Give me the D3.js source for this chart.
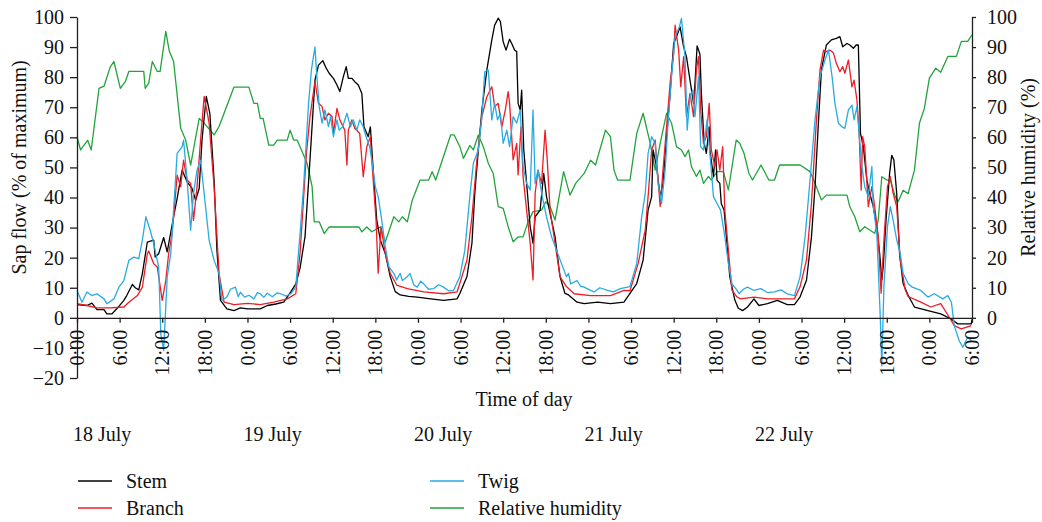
<!DOCTYPE html>
<html>
<head>
<meta charset="utf-8">
<script src="https://cdn.jsdelivr.net/npm/d3@7"></script>
<style>
  body { margin: 0; background: #fff; }
  text { font-family: "Liberation Serif", "DejaVu Serif", serif; fill: #111; }
  .axis path, .axis line { stroke: #231f20; stroke-width: 1.3; }
</style>
</head>
<body>
<div id="chart"></div>
<script>
// [hours since 18 July 0:00, value]
var stemFlow = [
  [0,4.4],[1.4,4.1],[2.1,4.9],[2.8,2.7],[3.8,2.7],[4.2,1.3],[4.9,1.3],[5.6,3],[6.6,5.8],[7,7.4],[7.8,11.1],[8.2,10],[8.7,9.3],[9.2,14.7],[9.9,25.2],[10.8,25.8],[11,20.2],[11.5,21.3],[12.2,26.7],[12.7,21.9],[13.6,33.6],[14.1,39.7],[14.8,49.1],[15.5,45.2],[16.2,43],[16.7,39.1],[17.2,43],[17.6,59.1],[18.2,73.6],[18.7,68],[19.3,45.8],[19.7,22.4],[20.2,5.8],[21.1,3],[22.1,2.4],[23,3.3],[24,3],[25.8,3],[26.8,4.1],[28,4.6],[29.1,5.2],[30.1,8.6],[30.8,11.3],
  [31.4,16.5],[32.1,27],[32.8,52.5],[33.5,79],[34,84],[34.6,85.5],[35.1,82.9],[35.5,81.3],[36.1,79.6],[36.6,77.4],[37,75.2],[37.5,80.2],[37.9,83.5],[38.2,79.6],[38.7,79.6],[39.1,78.5],[39.6,77.4],[40.1,74.6],[40.4,63.5],[41,60.2],[41.3,63.5],[41.7,49.1],[42.2,32.5],[42.7,25.9],[43.4,21.4],[44.1,13.7],[44.8,8.7],[45.5,7.6],
  [46.7,7.1],[47.9,6.9],[49.8,6.3],[51.6,5.8],[53.5,6.3],
  [53.9,8.1],[54.9,13.7],[55.6,24.8],[56,41.4],[56.5,55.8],[57,69.1],[57.7,82.4],[58.4,92.4],[58.8,97.3],[59.3,99.6],[59.6,98.5],[60,91.8],[60.4,89],[60.9,92.6],[61.2,91.2],[61.6,89],[61.9,88.5],[62.1,71.3],[62.4,69.1],[62.6,75.7],[62.9,55.8],[63.3,44.7],[63.8,30.3],[64.2,24.8],[64.5,33.6],[65.2,35.8],[65.7,48],[66.1,40.3],[66.6,34.7],[67.3,27],[68,13.7],[68.7,8.1],[69.2,7.6],
  [70.4,5.2],[71.4,4.7],[73.3,5.2],[75.1,4.7],[77,5.2],
  [77.85,8.1],[78.8,11.4],[79.7,19.2],[80.4,35.8],[80.9,40.3],[81.1,55.8],[81.6,50.3],[82.1,40.3],[82.5,44.7],[83,60.2],[83.5,74.6],[84,91.2],[84.4,93.4],[84.9,96.7],[85.4,90.1],[85.8,86.8],[86.3,79],[86.8,71.3],[87,78],[87.3,90.4],[87.7,87.6],[87.9,74.6],[88.3,58],[88.6,54.7],[89,63.5],[89.1,55.8],[89.6,47],[89.9,55.8],[90.1,45.8],[90.5,44.7],[90.7,38],[91.1,35.8],[91.5,24.8],[91.9,13.7],[92.6,6],[93.1,3.2],
  [93.7,2.4],[94.4,3.6],[95.3,6.3],[96,4.1],[97.2,4.7],[98.6,5.8],[100,4.4],[101,4.4],
  [101.8,7],[102.7,12.5],[103.4,26.9],[103.9,43.6],[104.4,65.8],[104.8,82.4],[105.5,90.7],[106.2,92.4],[106.9,92.9],[107.4,93.5],[107.8,90.1],[108.4,91.2],[108.8,90.7],[109.3,89.6],[109.7,90.7],[110,90.7],[110.3,61.3],[110.7,57],[111.2,45.8],[111.6,41.4],[112.1,37],[112.6,30.3],[113,21.4],[113.3,12.6],[113.5,17],[113.9,32.5],[114.4,48],[114.7,54],[115,52.5],[115.4,41.4],[115.8,21.4],[116.3,11.4],[117,7.5],
  [117.9,3.6],[119.8,2.4],[121.6,1.3],[123,-0.3],[124,-2],[125.9,-2],[126,-0.5]
];
var branchFlow = [
  [0,4.7],[1.4,4.1],[2.8,3.3],[4.7,3.3],[6.6,3.6],[7.3,5.2],[8.5,7.4],[9.2,10.2],[9.9,21.3],[10.1,22.2],[10.8,18],[11.3,16.9],[12,5.8],[12.5,12.4],[12.9,21.3],[13.4,28],[14.1,47.4],[14.6,43.6],[15,52.4],[15.5,45.8],[16,44.7],[16.4,32.4],[16.9,43.6],[17.4,59.1],[17.9,73.6],[18.6,64.7],[19.3,43.6],[20,14.7],[20.7,5.2],[22.1,4.4],[24,4.8],[25.8,4.4],[27.7,5.2],[29.6,6.3],[30.8,8],
  [31.4,21.4],[32.3,54.7],[32.8,66.9],[33.5,78.5],[34,71.3],[34.5,70.2],[34.9,65.8],[35.4,68],[35.9,66.9],[36.1,61.3],[36.6,69.6],[37,65.8],[37.7,62.4],[38,50.8],[38.2,62.4],[38.7,65.8],[39.1,63],[39.8,61.3],[40.3,46.9],[40.8,56.9],[41.3,60.2],[41.6,49.1],[42.1,32.5],[42.4,14.8],[42.8,30.3],[43.4,21.4],[44.1,14.8],[45,10.9],
  [46.5,9.7],[48.8,8.6],[51.6,8],[53.5,8.6],
  [53.9,11.5],[54.9,19.2],[55.6,33.6],[56.3,52.5],[57,66.9],[57.7,73.5],[58.4,76.8],[58.8,70.2],[59.3,71.3],[59.8,63.5],[60.3,69.1],[60.7,75.2],[60.9,71.3],[61.4,52.5],[61.9,58],[62.1,47.5],[62.5,63.5],[62.8,46.9],[63.3,35.8],[63.8,24.8],[64.2,12.6],[64.5,41.4],[64.9,49.1],[65.4,44.7],[65.9,62.4],[66.2,52.5],[66.6,35.8],[67.3,24.8],[68,13.7],[68.9,10.4],
  [70,8],[72.3,7.4],[75.1,7.4],[77,9.1],
  [77.85,9],[79,18.1],[80,29.2],[80.4,40.3],[80.9,55.8],[81.4,59.1],[81.7,49.1],[82.1,37],[82.5,49.1],[83,63.5],[83.5,78],[84,87.9],[84.2,97.3],[84.7,89],[85,76.8],[85.4,86.8],[85.8,66.9],[86.3,74.6],[86.8,66.9],[87.2,82.4],[87.5,86.8],[87.8,69.1],[88.2,58],[88.6,60.2],[89,71.3],[89.3,55.8],[89.8,50.3],[90.1,55.8],[90.5,49.1],[90.9,56.9],[91.2,35.8],[91.7,22.5],[92.2,9.2],[92.9,7],
  [93.4,6.3],[95.3,6.9],[97.2,6.3],[99.1,6.3],[101,6.3],
  [101.8,10.4],[102.7,19.2],[103.4,38],[104.1,65.8],[104.6,82.4],[105.1,89],[105.5,88.5],[106,89],[106.5,88],[106.9,84.6],[107.4,81.8],[107.8,83.5],[108.1,81.3],[108.6,85.7],[109.1,76.8],[109.4,79],[109.8,72.4],[110.1,62.4],[110.4,42.5],[110.6,60.2],[110.9,56.9],[111.4,37],[111.9,43.6],[112.3,37],[112.8,27],[113.2,8.2],[113.6,25.9],[114.1,43.6],[114.5,46.9],[114.9,41.4],[115.4,37],[115.9,19.2],[116.6,9.3],[117,7.1],
  [118.8,5.2],[120.2,3.6],[121.6,4.7],[122.8,0.2],[123.5,-2.6],[124.5,-3.7],[125.9,-2.6]
];
var twigFlow = [
  [0,9.1],[0.7,5.2],[1.4,8.6],[2.1,7.4],[2.8,8],[3.8,6.3],[4.2,4.7],[5.2,6.3],[5.9,10.2],[6.6,12.4],[7.3,19.1],[8,20.2],[8.7,19.7],[9.2,25.8],[9.7,33.6],[10.3,29.1],[10.8,24.7],[11.5,16.9],[11.8,-5.3],[12.2,-10.9],[12.7,13.6],[13.2,21.3],[13.6,35.8],[14.1,54.7],[14.8,56.9],[15,59.1],[15.5,45.8],[16,29.1],[16.4,41.3],[16.9,49.1],[17.4,52.4],[17.9,41.3],[18.6,25.8],[19.3,19.1],[20,14.7],[20.4,5.8],
  [21.1,6.9],[21.6,9.5],[22.3,10.2],[22.7,7],[23,8.5],[23.6,6.9],[24.2,7.5],[24.9,6.3],[25.4,8.4],[25.8,8],[26.3,6.8],[26.8,8.2],[27.5,7],[28.2,8.3],[28.7,8],[29.4,7.2],[30.1,8],[30.8,10.2],
  [31.4,28],[31.9,43.6],[32.6,71.3],[33,82.4],[33.5,90.1],[33.7,82.4],[34.1,70.2],[34.5,64.7],[34.9,69.1],[35.4,63.6],[35.7,66.9],[36.1,60.2],[36.6,65.8],[36.9,62.4],[37.4,63.5],[38,68],[38.5,63.5],[38.9,65.8],[39.4,62.4],[39.8,65.8],[40.3,63.5],[40.7,60.2],[41.2,56.9],[41.5,52.5],[42,43.6],[42.4,40.3],[42.9,32.5],[43.4,23.7],[43.9,17],[44.6,14.8],[45,12.6],[45.5,14.8],
  [45.8,12.4],[46.4,13.5],[46.9,14.7],[47.4,11],[47.9,10.2],[48.4,12.2],[48.8,11.3],[49.5,9.5],[50.2,9.7],[50.9,11],[51.6,10.2],[52.3,9],[53,9.1],
  [53.9,13.7],[54.6,22.5],[55.3,40.3],[55.8,51.4],[56.5,55.8],[57,66.9],[57.4,81.8],[57.9,82.4],[58.4,65.8],[58.8,71.3],[59.2,65.8],[59.6,68],[60,58],[60.5,62.4],[60.9,56.9],[61.4,66.9],[61.9,64.7],[62.4,69.1],[62.8,50.3],[63.3,44.7],[63.8,42.5],[64.2,69.1],[64.5,44.7],[64.9,49.1],[65.5,40.3],[66.1,33.6],[66.8,27],[67.5,22.5],[68.2,18.1],[68.9,13.7],[69.2,14.8],
  [69.5,11.3],[70.4,12.4],[70.9,10.5],[71.4,10.2],[72.1,9.4],[72.8,8.6],[73.6,10],[74.7,9.1],[75.5,8.6],[76.5,9.7],
  [77.85,10.4],[78.8,18.1],[79.5,33.6],[80,41.4],[80.4,54.7],[80.9,60.2],[81.4,58],[81.8,44.7],[82.3,38],[82.8,49.1],[83.2,64.6],[83.7,80.2],[84.2,93.4],[84.8,96.7],[85.1,99.5],[85.6,86.8],[85.9,62.4],[86.3,73.5],[86.7,75.7],[87,66.9],[87.5,80.2],[87.8,56.9],[88.2,55.8],[88.7,65.8],[89.1,54.7],[89.6,40.3],[90.1,38],[90.6,35.8],[91.2,27],[91.7,18.1],[92.2,11.4],[92.9,9.2],
  [93.2,8],[93.8,9.5],[94.4,10.2],[95.3,9.1],[96.3,9.7],[97.2,8.4],[98.2,8.6],[99.1,9.3],[100,8],[101,7.4],
  [101.8,13.7],[102.5,26.9],[103.2,45.8],[103.9,65.8],[104.6,80.2],[105.3,85.7],[105.8,89],[106.3,80.2],[106.7,71.3],[107.2,64.7],[107.7,63.5],[108.1,63],[108.6,69.1],[109.1,70.7],[109.4,65.8],[109.8,70.2],[110.1,61.3],[110.5,50.3],[110.9,43.6],[111.4,40.3],[111.9,50.3],[112.1,37],[112.6,28.1],[113.1,-0.6],[113.3,-16],[113.6,10.4],[114.1,30.3],[114.5,37],[114.9,32.5],[115.4,25.9],[115.9,21.4],[116.3,14.8],[117,11.4],
  [117.6,10.2],[118.8,9.1],[119.8,6.9],[120.7,8],[121.9,6.3],[122.6,7.4],[123.1,5.2],[123.5,-2.6],[124.2,-7.6],[124.7,-9.8],[125.4,-6.4],[125.9,-7.6]
];
var humidity = [
  [0,60.2],[0.5,55.8],[1.5,59],[2,55.8],[3.1,76.3],[3.8,77],[4.7,83.5],[5.2,85.2],[6.1,76.3],[6.8,78.5],[7.3,81.9],[9.4,81.9],[9.6,76.3],[10.1,78],[10.6,85.2],[11.3,81.9],[11.7,81.9],[12.5,95.2],[13,88.6],[13.6,85.2],[14.6,63],[15.3,59.1],[16,50.8],[17.2,66.3],[17.9,64.7],[19.3,60.8],[20,63.6],[22.1,76.7],[24.2,76.7],[24.9,71.3],[25.4,71.3],[25.8,66.3],[26.2,66.3],[27,57.4],[27.7,57.4],[28.2,59.1],[29.6,59.1],[30,62.4],[30.5,59.1],[31,59.1],[31.7,55.2],[32.4,51.3],[33.1,43.6],[33.4,31.9],[34.1,31.9],[34.8,28],[35.5,30.2],[39.7,30.2],[40.1,28.6],[40.8,30.2],[41.5,28.6],[42.7,30.2],[43.4,25.2],[44.6,33.6],[45.3,31.9],[45.8,33.6],[46.5,31.9],[47.2,39.1],[48.3,45.8],[49.5,45.8],[50,48.6],[50.5,45.8],[52.6,60.8],[53.1,60.8],
  [53.9,56.9],[54.4,53],[55.3,57.3],[55.8,55.8],[56.5,60.8],[57.2,56.9],[57.9,51.4],[58.6,48],[59.3,37],[60,36.4],[60.7,30.3],[61.4,25.3],[62.1,26.9],[62.8,26.9],[63.5,31.9],[64.2,35.3],[65.4,35.8],[66,38.6],[66.6,37],[67.3,32.5],[68.5,48.6],[69.4,40.8],
  [70.2,44.7],[71.4,48],[72.3,52.4],[73,50.8],[74.4,62.4],[75.1,60.2],[75.6,49.1],[76.1,45.8],[77.85,45.8],
  [78.8,61.3],[79.7,68],[80.7,58],[81.4,49.1],[82.1,58],[83,68],[83.7,64.7],[84.4,56.9],[85.1,55.8],[85.6,53.6],[86.1,55.8],[86.5,50.3],[87.2,47],[87.7,49.1],[88.2,44.7],[88.9,47],[89.3,45.8],[90.1,48.6],[91,48.6],[91.7,42.5],[92.8,59.1],[93.3,58],
  [93.9,54.7],[94.6,48],[95.1,45.8],[96.3,50.8],[97.4,45.8],[98.2,45.8],[98.9,50.8],[101.8,50.8],
  [103.2,48.6],[103.9,44.7],[104.8,39.2],[105.5,40.8],[108.4,40.8],[108.8,36.9],[109.5,33.6],[110.2,28.6],[110.9,30.3],[111.6,29.2],[112.3,28.1],[112.8,32.5],[113.3,46.9],[114,45.8],[114.5,45.8],[115.2,40.3],[115.6,38.6],[116.3,42.4],[117,41.3],
  [117.9,49.1],[118.6,64.7],[119.3,69.7],[120,79.7],[120.9,83],[121.6,81.6],[122.6,86.9],[123.8,86.9],[124.5,91.9],[125.4,91.9],[126,94.1]
];

var hourTicks = d3.range(0, 127, 6);
var dayLabels = ["18 July", "19 July", "20 July", "21 July", "22 July"];
var leftTicks = [-20, -10, 0, 10, 20, 30, 40, 50, 60, 70, 80, 90, 100];
var rightTicks = [0, 10, 20, 30, 40, 50, 60, 70, 80, 90, 100];

var series = [
  {name: "Relative humidity", data: humidity, color: "#22a33c"},
  {name: "Stem", data: stemFlow, color: "#000000"},
  {name: "Branch", data: branchFlow, color: "#ee1c25"},
  {name: "Twig", data: twigFlow, color: "#29abe2"}
];

var width = 1042, height = 522;

var svg = d3.select("#chart").append("svg")
  .attr("width", width)
  .attr("height", height);

var xScale = d3.scaleLinear().domain([0, 126]).range([77, 972]);
var yScale = d3.scaleLinear().domain([-20, 100]).range([378, 17]);
var yRight = d3.scaleLinear().domain([0, 100]).range([yScale(0), yScale(100)]);

// lines first, axes drawn on top
var line = d3.line()
  .x(function(d){ return xScale(d[0]); })
  .y(function(d){ return yScale(d[1]); });

series.forEach(function(s){
  svg.append("path")
    .datum(s.data)
    .attr("fill", "none")
    .attr("stroke", s.color)
    .attr("stroke-width", 1.3)
    .attr("stroke-linejoin", "round")
    .attr("d", line);
});

// x axis sits on the zero line
svg.append("g")
  .attr("class", "axis")
  .attr("transform", "translate(0," + yScale(0) + ")")
  .call(d3.axisBottom(xScale)
    .tickValues(hourTicks)
    .tickFormat(function(h){ return (h % 24) + ":00"; })
    .tickSize(5)
    .tickSizeOuter(0))
  .selectAll("text")
    .style("font-size", "20px")
    .attr("text-anchor", "end")
    .attr("transform", "rotate(-90)")
    .attr("x", -12)
    .attr("y", 0)
    .attr("dy", "0.33em");

svg.append("g")
  .attr("class", "axis")
  .attr("transform", "translate(77,0)")
  .call(d3.axisLeft(yScale)
    .tickValues(leftTicks)
    .tickSize(7)
    .tickPadding(6)
    .tickSizeOuter(0))
  .selectAll("text")
    .style("font-size", "20px");

svg.append("g")
  .attr("class", "axis")
  .attr("transform", "translate(972,0)")
  .call(d3.axisRight(yRight)
    .tickValues(rightTicks)
    .tickSize(4)
    .tickPadding(11)
    .tickSizeOuter(0))
  .selectAll("text")
    .style("font-size", "20px");

svg.selectAll(".axis .domain").attr("fill", "none");

// axis titles
svg.append("text")
  .text("Sap flow (% of maximum)")
  .style("font-size", "20px")
  .attr("text-anchor", "middle")
  .attr("transform", "translate(26," + yScale(50) + ") rotate(-90)");

svg.append("text")
  .text("Relative humidity (%)")
  .style("font-size", "20px")
  .attr("text-anchor", "middle")
  .attr("transform", "translate(1035," + yScale(50) + ") rotate(-90)");

svg.append("text")
  .text("Time of day")
  .style("font-size", "20px")
  .attr("text-anchor", "middle")
  .attr("x", 524)
  .attr("y", 406);

// day names under the hour ticks
dayLabels.forEach(function(d, i){
  svg.append("text")
    .text(d)
    .style("font-size", "20px")
    .attr("x", xScale(i * 24) - 4)
    .attr("y", 441);
});

// legend, two columns
var legendOrder = [series[1], series[2], series[3], series[0]];
legendOrder.forEach(function(s, i){
  var col = Math.floor(i / 2), row = i % 2;
  var lx = col === 0 ? 78 : 430;
  var ly = 481 + row * 27;
  svg.append("line")
    .attr("x1", lx).attr("x2", lx + 34)
    .attr("y1", ly).attr("y2", ly)
    .attr("stroke", s.color)
    .attr("stroke-width", 1.5);
  svg.append("text")
    .text(s.name)
    .style("font-size", "20px")
    .attr("x", lx + 48)
    .attr("y", ly + 7);
});
</script>
</body>
</html>
